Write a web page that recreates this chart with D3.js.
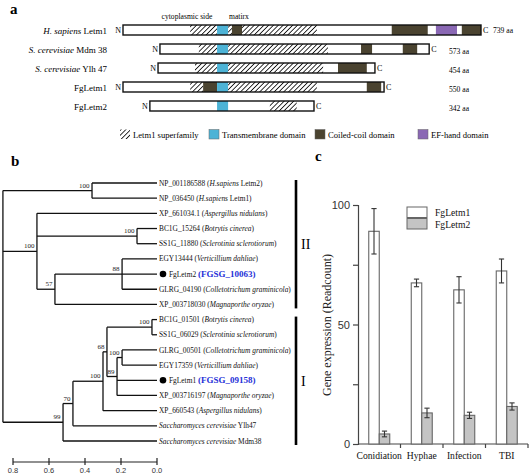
<!DOCTYPE html>
<html><head><meta charset="utf-8">
<script src="https://cdn.jsdelivr.net/npm/d3@7"></script>
<style>body{margin:0;background:#fff}svg{display:block}text{font-family:"Liberation Serif","Times New Roman",serif}</style>
</head><body><svg id="c" width="531" height="474"></svg>
<script>
// ---------- Panel a data ----------
const protSpecies = ["H. sapiens", "S. cerevisiae", "S. cerevisiae", "", ""];
const protNames = [" Letm1", " Mdm 38", " Ylh 47", "FgLetm1", "FgLetm2"];
const protLengths = [739, 573, 454, 550, 342];
// aligned start / end (alignment columns)
const protStart = [0, 77, 73, 0, 56];
const protEnd = [746, 638, 525, 544, 398];
const protDomains = [
  [[140,196,"hatch"],[196,219,"tm"],[219,227,"hatch"],[227,248,"cc"],[248,404,"hatch"],[560,635,"cc"],[652,696,"ef"],[706,746,"cc"]],
  [[158,196,"hatch"],[196,219,"tm"],[219,427,"hatch"],[496,519,"cc"],[583,613,"cc"]],
  [[150,196,"hatch"],[196,219,"tm"],[219,417,"hatch"],[448,508,"cc"]],
  [[140,167,"hatch"],[167,196,"cc"],[196,219,"tm"],[219,404,"hatch"],[508,538,"cc"]],
  [[196,219,"tm"],[306,362,"hatch"]]
];
const domainTypes = ["hatch","tm","cc","ef"];
const domainLabels = ["Letm1 superfamily","Transmembrane domain","Coiled-coil domain","EF-hand domain"];

// ---------- Panel b data ----------
const tree = {age:0.856, children:[
  {age:0.361, bs:100, children:[
    {name:"NP_001186588 (", it:"H.sapiens", post:" Letm2)"},
    {name:"NP_036450 (", it:"H.sapiens", post:" Letm1)"}]},
  {age:0.667, bs:100, children:[
    {name:"XP_661034.1  (", it:"Aspergillus nidulans", post:")"},
    {age:0.111, bs:100, children:[
      {name:"BC1G_15264 (", it:"Botrytis cinerea", post:")"},
      {name:"SS1G_11880 (", it:"Sclerotinia sclerotiorum", post:")"}]},
    {age:0.567, bs:57, children:[
      {age:0.194, bs:88, children:[
        {name:"EGY13444 (", it:"Verticillium dahliae", post:")"},
        {name:"FgLetm2 ", fg:"(FGSG_10063)", dot:true},
        {name:"GLRG_04190 (", it:"Colletotrichum graminicola", post:")"}]},
      {name:"XP_003718030 (", it:"Magnaporthe oryzae", post:")"}]}]},
  {age:0.522, bs:99, children:[
    {age:0.467, bs:70, children:[
      {age:0.30, bs:100, children:[
        {age:0.278, bs:68, children:[
          {age:0.028, bs:100, children:[
            {name:"BC1G_01501 (", it:"Botrytis cinerea", post:")"},
            {name:"SS1G_06029 (", it:"Sclerotinia sclerotiorum", post:")"}]},
          {age:0.222, bs:89, children:[
            {age:0.194, bs:100, children:[
              {name:"GLRG_00501 (", it:"Colletotrichum graminicola", post:")"},
              {name:"EGY17359 (", it:"Verticillium dahliae", post:")"}]},
            {name:"FgLetm1 ", fg:"(FGSG_09158)", dot:true},
            {name:"XP_003716197 (", it:"Magnaporthe oryzae", post:")"}]}]},
        {name:"XP_660543 (", it:"Aspergillus nidulans", post:")"}]},
      {name:"", it:"Saccharomyces cerevisiae", post:" Ylh47"}]},
    {name:"", it:"Saccharomyces cerevisiae", post:" Mdm38"}]}
]};
const scaleTicks = [0.8, 0.6, 0.4, 0.2, 0.0];
const clades = [{label:"II", from:0, to:8}, {label:"I", from:9, to:17}];

// ---------- Panel c data ----------
const categories = ["Conidiation", "Hyphae", "Infection", "TBI"];
const seriesNames = ["FgLetm1", "FgLetm2"];
const letm1Vals = [89, 67.4, 64.5, 72.4];
const letm1Err = [9.5, 1.6, 5.5, 5.0];
const letm2Vals = [4.2, 13.0, 12.0, 15.7];
const letm2Err = [1.2, 2.0, 1.3, 1.5];
const yTicks = [0, 25, 50, 75, 100];

const svg = d3.select("#c");
const colors = {tm:"#4db3d6", cc:"#4a4330", ef:"#8a68b4"};

const defs = svg.append("defs");
const pat = defs.append("pattern").attr("id","hatch").attr("patternUnits","userSpaceOnUse")
  .attr("width",3.4).attr("height",3.4).attr("patternTransform","rotate(45)");
pat.append("rect").attr("width",3.4).attr("height",3.4).attr("fill","#fff");
pat.append("line").attr("x1",0).attr("y1",0).attr("x2",0).attr("y2",3.4).attr("stroke","#111").attr("stroke-width",1.7);
function fillOf(t){ return t==="hatch" ? "url(#hatch)" : colors[t]; }

// ===== Panel a =====
svg.append("text").attr("x",10).attr("y",14).attr("font-size",15).attr("font-weight","bold").text("a");
const xA = d3.scaleLinear().domain([0,746]).range([123,481]);
const yA = d3.scalePoint().domain(d3.range(protNames.length)).range([30,106]);
svg.append("text").attr("x",187).attr("y",19).attr("font-size",7.6).attr("text-anchor","middle").text("cytoplasmic side");
svg.append("text").attr("x",239).attr("y",19).attr("font-size",7.6).attr("text-anchor","middle").text("matirx");
const bh = 10;
protNames.forEach((nm,i)=>{
  const y = yA(i);
  const t = svg.append("text").attr("x",107).attr("y",y+3.5).attr("font-size",9).attr("text-anchor","end");
  if (protSpecies[i]) t.append("tspan").attr("font-style","italic").text(protSpecies[i]);
  t.append("tspan").text(nm);
  const x0 = xA(protStart[i]), x1 = xA(protEnd[i]);
  svg.append("rect").attr("x",x0).attr("y",y-bh/2).attr("width",x1-x0).attr("height",bh).attr("fill","#fff");
  protDomains[i].forEach(d=>{
    svg.append("rect").attr("x",xA(d[0])).attr("y",y-bh/2).attr("width",xA(d[1])-xA(d[0])).attr("height",bh)
      .attr("fill",fillOf(d[2]));
  });
  svg.append("rect").attr("x",x0).attr("y",y-bh/2).attr("width",x1-x0).attr("height",bh)
    .attr("fill","none").attr("stroke","#111").attr("stroke-width",1.4);
  svg.append("text").attr("x",x0-2).attr("y",y+3).attr("font-size",8).attr("text-anchor","end").text("N");
  svg.append("text").attr("x",x1+2).attr("y",y+3).attr("font-size",8).text("C");
  svg.append("text").attr("x",Math.max(449,x1+12)).attr("y",y+3+(i?1.5:0)).attr("font-size",7.6).text(protLengths[i]+" aa");
});
// legend a
const legX = [120, 209, 315, 418];
domainTypes.forEach((t,i)=>{
  svg.append("rect").attr("x",legX[i]).attr("y",129.5).attr("width",10).attr("height",9.5).attr("fill",fillOf(t))
    .attr("stroke", t==="hatch" ? "none" : "#666").attr("stroke-width",0.5);
  svg.append("text").attr("x",legX[i]+13).attr("y",137.5).attr("font-size",8.6).text(domainLabels[i]);
});

// ===== Panel b =====
svg.append("text").attr("x",11).attr("y",166).attr("font-size",15).attr("font-weight","bold").text("b");
const root = d3.hierarchy(tree);
const leaves = root.leaves();
const yB = d3.scalePoint().domain(d3.range(leaves.length)).range([183,441]);
const xB = d3.scaleLinear().domain([0,0.8]).range([157,13]);
leaves.forEach((l,i)=>{ l.py = yB(i); l.px = xB(0); });
root.eachAfter(n=>{
  if (n.children){ n.py = (n.children[0].py + n.children[n.children.length-1].py)/2; n.px = xB(n.data.age); }
});
const g = svg.append("g").attr("stroke","#111").attr("stroke-width",1.3).attr("fill","none");
root.each(n=>{
  if (n.children){
    g.append("line").attr("x1",n.px).attr("x2",n.px).attr("y1",n.children[0].py).attr("y2",n.children[n.children.length-1].py);
    n.children.forEach(c=>{ g.append("line").attr("x1",n.px).attr("x2",c.px).attr("y1",c.py).attr("y2",c.py); });
    if (n.data.bs!==undefined)
      svg.append("text").attr("x",n.px-2.5).attr("y",n.py-3).attr("font-size",7).attr("text-anchor","end").attr("fill","#222").text(n.data.bs);
  }
});
leaves.forEach(l=>{
  const d = l.data;
  let x = l.px + 2;
  if (d.dot){ svg.append("circle").attr("cx",x+4).attr("cy",l.py).attr("r",3.3).attr("fill","#000"); x += 10; }
  const t = svg.append("text").attr("x",x).attr("y",l.py+2.6).attr("font-size",7.4).attr("fill","#111");
  t.append("tspan").text(d.name);
  if (d.it) t.append("tspan").attr("font-style","italic").text(d.it);
  if (d.post) t.append("tspan").text(d.post);
  if (d.fg) t.append("tspan").attr("font-weight","bold").attr("font-size",9).attr("fill","#2530d8").text(d.fg);
});
// scale bar
const sb = svg.append("g").attr("transform","translate(0,462)");
sb.append("line").attr("x1",xB(0.8)).attr("x2",xB(0)).attr("stroke","#222").attr("stroke-width",1.2);
scaleTicks.forEach(v=>{
  sb.append("line").attr("x1",xB(v)).attr("x2",xB(v)).attr("y1",-4).attr("y2",3).attr("stroke","#222").attr("stroke-width",1.2);
  sb.append("text").attr("x",xB(v)).attr("y",11).attr("text-anchor","middle").attr("font-size",7.5)
    .style("font-family","'Liberation Sans',Arial,sans-serif").attr("fill","#333").text(v.toFixed(1));
});
// clade bars
clades.forEach(c=>{
  const y0 = yB(c.from)-3, y1 = yB(c.to)+4;
  svg.append("line").attr("x1",296).attr("x2",296).attr("y1",y0).attr("y2",y1).attr("stroke","#000").attr("stroke-width",2.6);
  svg.append("text").attr("x",301).attr("y",(y0+y1)/2+5).attr("font-size",14).text(c.label);
});

// ===== Panel c =====
svg.append("text").attr("x",315).attr("y",161).attr("font-size",15).attr("font-weight","bold").text("c");
const xC = d3.scaleBand().domain(categories).range([358,528]);
const xS = d3.scaleBand().domain(seriesNames).range([-10.5,10.5]);
const yC = d3.scaleLinear().domain([0,100]).range([444,205]);
const axisColor = "#444";
const ya = svg.append("g").attr("transform","translate(358,0)")
  .call(d3.axisLeft(yC).tickValues(yTicks).tickSize(5).tickFormat(v=>v%50===0?v:""));
ya.select(".domain").attr("stroke",axisColor).attr("stroke-width",1.2);
ya.selectAll(".tick line").attr("stroke",axisColor).attr("stroke-width",1.2);
ya.selectAll(".tick text").attr("font-size",11).attr("fill","#333").style("font-family","'Liberation Sans',Arial,sans-serif");
svg.append("line").attr("x1",358).attr("x2",528).attr("y1",444).attr("y2",444).attr("stroke",axisColor).attr("stroke-width",1.2);
categories.forEach((c,i)=>{
  const bx = xC(c)+xC.bandwidth();
  svg.append("line").attr("x1",bx).attr("x2",bx).attr("y1",444).attr("y2",448).attr("stroke",axisColor).attr("stroke-width",1.2);
  svg.append("text").attr("x",xC(c)+xC.bandwidth()/2).attr("y",459).attr("text-anchor","middle").attr("font-size",9.6).attr("fill","#111").text(c);
});
const series = [{name:"FgLetm1", vals:letm1Vals, err:letm1Err, fill:"#fff"},
                {name:"FgLetm2", vals:letm2Vals, err:letm2Err, fill:"#c4c4c4"}];
series.forEach(s=>{
  categories.forEach((c,i)=>{
    const cx = xC(c)+xC.bandwidth()/2;
    const x = cx + xS(s.name);
    svg.append("rect").attr("x",x).attr("y",yC(s.vals[i])).attr("width",xS.bandwidth()).attr("height",yC(0)-yC(s.vals[i]))
      .attr("fill",s.fill).attr("stroke","#666").attr("stroke-width",1.1);
    const ex = x + xS.bandwidth()/2;
    const hi = yC(s.vals[i]+s.err[i]), lo = yC(s.vals[i]-s.err[i]);
    const eg = svg.append("g").attr("stroke","#333").attr("stroke-width",1.1);
    eg.append("line").attr("x1",ex).attr("x2",ex).attr("y1",hi).attr("y2",lo);
    eg.append("line").attr("x1",ex-2.6).attr("x2",ex+2.6).attr("y1",hi).attr("y2",hi);
    eg.append("line").attr("x1",ex-2.6).attr("x2",ex+2.6).attr("y1",lo).attr("y2",lo);
  });
});
svg.append("text").attr("transform","translate(331,325) rotate(-90)").attr("text-anchor","middle").attr("font-size",12).attr("fill","#222")
  .text("Gene expression (Readcount)");
// legend c
series.forEach((s,i)=>{
  svg.append("rect").attr("x",407).attr("y",207+i*11.5).attr("width",20).attr("height",10.5).attr("fill",s.fill).attr("stroke","#666").attr("stroke-width",1);
  svg.append("text").attr("x",435).attr("y",215.5+i*12.5).attr("font-size",9.6).attr("fill","#111").text(s.name);
});
</script></body></html>
